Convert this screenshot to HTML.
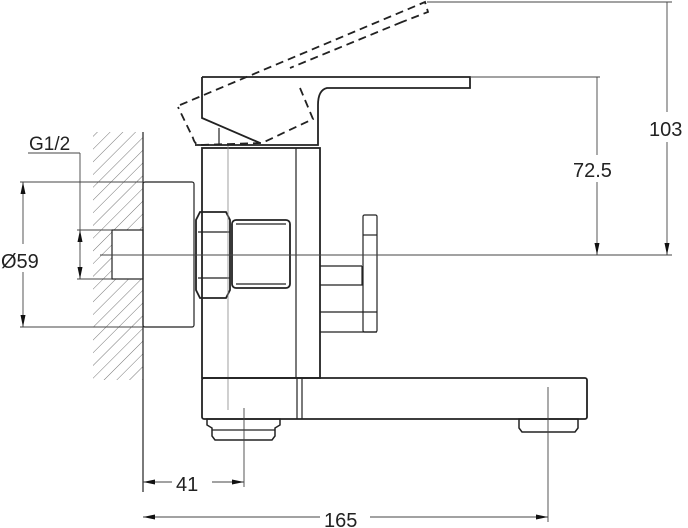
<!DOCTYPE html>
<html><head><style>html,body{margin:0;padding:0;background:#fff}svg{display:block}text{font-family:"Liberation Sans",sans-serif;fill:#222}</style></head>
<body>
<svg width="688" height="528" viewBox="0 0 688 528" xmlns="http://www.w3.org/2000/svg">
<defs>
<pattern id="h" width="9" height="9" patternUnits="userSpaceOnUse" patternTransform="rotate(45)">
<line x1="0" y1="0" x2="0" y2="9" stroke="#777" stroke-width="1"/>
</pattern>
<marker id="a" viewBox="0 0 12 6" refX="12" refY="3" markerWidth="12" markerHeight="6" markerUnits="userSpaceOnUse" orient="auto-start-reverse"><path d="M0,0.5 L12,3 L0,5.5z" fill="#111"/></marker>
</defs>
<rect x="93" y="132" width="50" height="248" fill="url(#h)"/>
<rect x="112" y="230" width="31" height="49" fill="#fff"/>
<g fill="none" stroke="#222" stroke-width="1.2">
<line x1="143" y1="132" x2="143" y2="492"/>
<rect x="143" y="182" width="51" height="145" rx="2"/>
<rect x="112" y="230" width="31" height="49"/>
<path d="M200,212 L226,212 L230,220 L230,290 L226,298 L200,298 L196,290 L196,220Z" stroke-width="1.8"/>
<line x1="198" y1="232" x2="230" y2="232"/><line x1="198" y1="278" x2="230" y2="278"/>
<rect x="232" y="220" width="58" height="68" rx="4" stroke-width="1.8"/>
<line x1="236" y1="224" x2="286" y2="224"/><line x1="236" y1="284" x2="286" y2="284"/>
<rect x="202" y="148" width="118" height="230" stroke-width="1.8"/>
<line x1="296" y1="148" x2="296" y2="378"/>
<line x1="228" y1="145" x2="228" y2="410" stroke="#888" stroke-width="0.8"/>
<path d="M202,77 L470,77 L470,88 L327,88 Q318,90 318,105 L318,145 L195,145 M202,77 L202,118 L260,143" stroke-width="1.8"/>
<line x1="219" y1="128" x2="219" y2="145"/>
<path d="M180,105 L425,2 L428,12 L402,22 M402,22 L290,68 M300,88 L313,119 L262,143 L200,145 Q195,145 193,138 L178,107" stroke-dasharray="8,5" stroke-width="1.8"/>
<rect x="363" y="215" width="14" height="117" rx="1.5"/>
<line x1="363" y1="235" x2="377" y2="235"/>
<path d="M320,266 L362,266 M320,285 L362,285 L362,266"/>
<path d="M320,312 L377,312 M320,332 L377,332"/>
<rect x="202" y="378" width="385" height="41" rx="2" stroke-width="1.8"/>
<line x1="297" y1="378" x2="297" y2="419"/><line x1="302" y1="378" x2="302" y2="419"/>
<path d="M207,419 L280,419 L280,425 L275,428 L275,436 L272,440 L215,440 L212,436 L212,428 L207,425Z" stroke-width="1.5"/>
<line x1="212" y1="430" x2="275" y2="430"/>
<path d="M519,419 L578,419 L578,428 L575,432 L522,432 L519,428Z" stroke-width="1.5"/>
</g>
<g stroke="#444" stroke-width="0.9" fill="none">
<line x1="100" y1="255" x2="672" y2="255"/>
<line x1="20" y1="182" x2="143" y2="182"/><line x1="20" y1="327" x2="143" y2="327"/>
<line x1="23" y1="244" x2="23" y2="182" marker-end="url(#a)"/><line x1="23" y1="272" x2="23" y2="327" marker-end="url(#a)"/>
<line x1="28" y1="153" x2="80" y2="153"/><line x1="80" y1="153" x2="80" y2="279"/>
<line x1="77" y1="230" x2="112" y2="230"/><line x1="77" y1="279" x2="112" y2="279"/>
<line x1="80" y1="250" x2="80" y2="230" marker-end="url(#a)"/><line x1="80" y1="260" x2="80" y2="279" marker-end="url(#a)"/>
<line x1="244" y1="408" x2="244" y2="487"/>
<line x1="548" y1="387" x2="548" y2="522"/>
<line x1="172" y1="482" x2="143" y2="482" marker-end="url(#a)"/><line x1="212" y1="482" x2="244" y2="482" marker-end="url(#a)"/>
<line x1="320" y1="517" x2="143" y2="517" marker-end="url(#a)"/><line x1="370" y1="517" x2="548" y2="517" marker-end="url(#a)"/>
<line x1="470" y1="77" x2="600" y2="77"/><line x1="427" y1="2" x2="672" y2="2"/>
<line x1="597" y1="77" x2="597" y2="155"/><line x1="597" y1="182" x2="597" y2="255" marker-end="url(#a)"/>
<line x1="667" y1="2" x2="667" y2="112"/><line x1="667" y1="142" x2="667" y2="255" marker-end="url(#a)"/>
</g>
<g font-size="20">
<text x="29" y="150" font-size="19">G1/2</text>
<text x="1" y="268">Ø59</text>
<text x="176" y="491">41</text>
<text x="324" y="527">165</text>
<text x="573" y="177">72.5</text>
<text x="649" y="136">103</text>
</g>
</svg>
</body></html>
